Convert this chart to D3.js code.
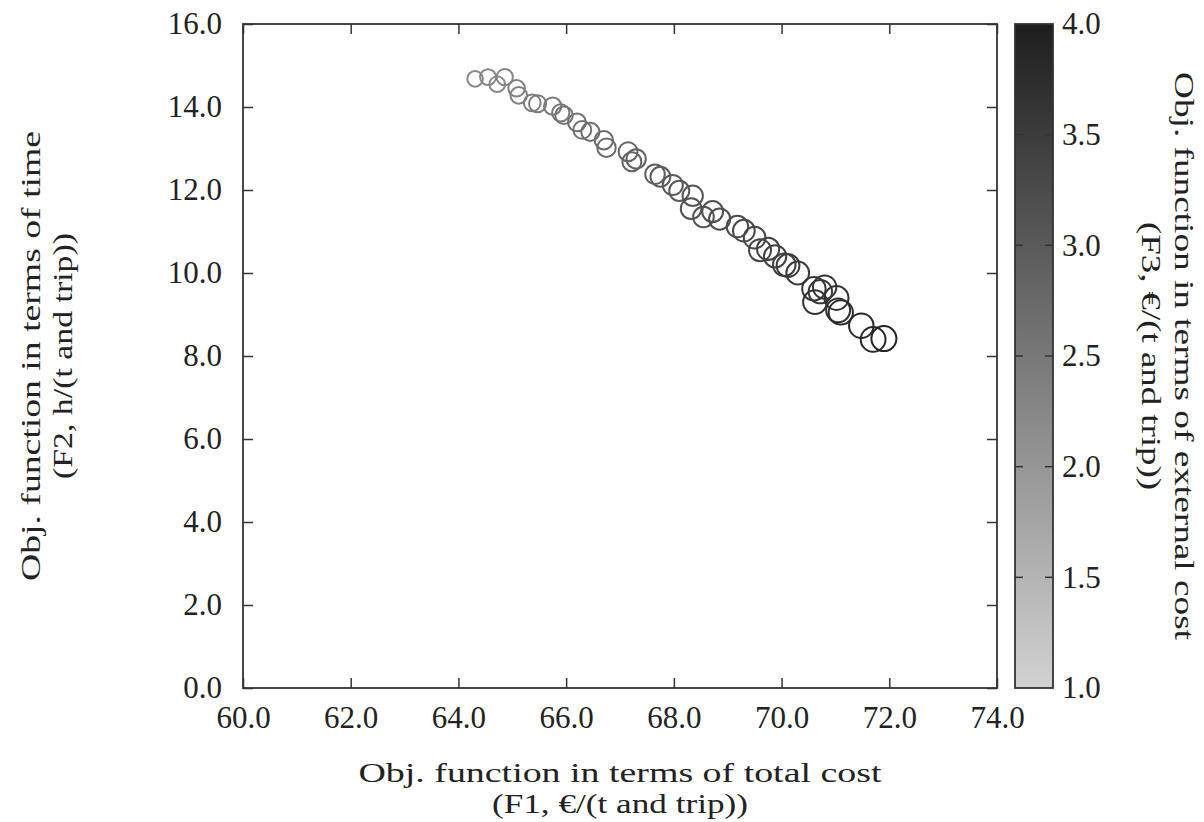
<!DOCTYPE html>
<html><head><meta charset="utf-8">
<script src="https://cdn.jsdelivr.net/npm/d3@7"></script>
<style>body{margin:0;background:#fff}svg{display:block}text{font-family:"Liberation Serif","DejaVu Serif",serif;fill:#222}</style>
</head><body><svg id="c" width="1204" height="822"></svg>
<script>
const f1 = [64.31,64.55,64.72,64.86,65.08,65.12,65.37,65.47,65.75,65.90,65.96,66.20,66.30,66.45,66.70,66.75,67.15,67.22,67.30,67.65,67.75,67.98,68.10,68.35,68.32,68.55,68.72,68.85,69.18,69.30,69.50,69.60,69.75,69.88,70.05,70.12,70.30,70.60,70.62,70.72,70.80,71.02,71.05,71.10,71.48,71.70,71.90];
const f2 = [14.68,14.72,14.55,14.72,14.45,14.28,14.10,14.08,14.02,13.86,13.80,13.63,13.45,13.40,13.20,13.02,12.92,12.68,12.75,12.38,12.32,12.12,11.98,11.86,11.55,11.35,11.48,11.30,11.12,11.02,10.85,10.55,10.58,10.40,10.20,10.18,10.00,9.62,9.30,9.55,9.66,9.40,9.10,9.05,8.73,8.40,8.42];
const f3 = [2.2,2.25,2.2,2.3,2.35,2.35,2.4,2.45,2.5,2.5,2.55,2.6,2.6,2.65,2.7,2.7,2.8,2.8,2.85,2.9,2.95,3.0,3.0,3.05,3.1,3.1,3.15,3.2,3.25,3.3,3.3,3.35,3.4,3.4,3.45,3.5,3.5,3.6,3.65,3.6,3.6,3.7,3.7,3.75,3.8,3.85,3.9];
const xTicks = [60,62,64,66,68,70,72,74];
const yTicks = [0,2,4,6,8,10,12,14,16];
const cTicks = [1.0,1.5,2.0,2.5,3.0,3.5,4.0];
const xTitle = ["Obj. function in terms of total cost","(F1, \u20AC/(t and trip))"];
const yTitle = ["Obj. function in terms of time","(F2, h/(t and trip))"];
const cTitle = ["Obj. function in terms of external cost","(F3, \u20AC/(t and trip))"];

const svg = d3.select("#c");
const L=243,R=997,T=24,B=688;
const x = d3.scaleLinear().domain([60,74]).range([L,R]);
const y = d3.scaleLinear().domain([0,16]).range([B,T]);
const gray = d3.scaleLinear().domain([1,4]).range(["#d2d2d2","#1e1e1e"]);
const rs = d3.scaleLinear().domain([2,4]).range([7.3,12.8]);
const fs = 31, tfs = 28, stroke="#333";

// axes (inward ticks on all sides)
const tk=10;
svg.append("g").attr("transform",`translate(0,${B})`).call(d3.axisBottom(x).tickValues(xTicks).tickSize(-tk).tickPadding(18).tickFormat(d3.format(".1f")));
svg.append("g").attr("transform",`translate(0,${T})`).call(d3.axisTop(x).tickValues(xTicks).tickSize(-tk).tickFormat(""));
svg.append("g").attr("transform",`translate(${L},0)`).call(d3.axisLeft(y).tickValues(yTicks).tickSize(-tk).tickPadding(21).tickFormat(d3.format(".1f")));
svg.append("g").attr("transform",`translate(${R},0)`).call(d3.axisRight(y).tickValues(yTicks).tickSize(-tk).tickFormat(""));
svg.selectAll(".domain").remove();
svg.selectAll(".tick line").attr("stroke",stroke).attr("stroke-width",1.5);
svg.selectAll(".tick text").attr("font-size",fs).attr("font-family",'"Liberation Serif",serif').attr("fill","#222");
svg.append("rect").attr("x",L).attr("y",T).attr("width",R-L).attr("height",B-T).attr("fill","none").attr("stroke",stroke).attr("stroke-width",1.8);

// points
svg.append("g").selectAll("circle").data(f1.map((d,i)=>({a:d,b:f2[i],c:f3[i]}))).join("circle")
  .attr("cx",d=>x(d.a)).attr("cy",d=>y(d.b)).attr("r",d=>rs(d.c))
  .attr("fill","none").attr("stroke",d=>gray(d.c)).attr("stroke-width",2);

// colorbar
const cL=1015,cR=1053;
const cy = d3.scaleLinear().domain([1,4]).range([B,T]);
const grad = svg.append("defs").append("linearGradient").attr("id","g").attr("x1",0).attr("y1",1).attr("x2",0).attr("y2",0);
grad.selectAll("stop").data(d3.range(0,1.0001,0.1)).join("stop").attr("offset",d=>d).attr("stop-color",d=>gray(1+3*d));
svg.append("rect").attr("x",cL).attr("y",T).attr("width",cR-cL).attr("height",B-T).attr("fill","url(#g)").attr("stroke",stroke).attr("stroke-width",1.8);
const ct = svg.append("g");
ct.selectAll("line.l").data(cTicks.slice(1,-1)).join("line").attr("x1",cL).attr("x2",cL+8).attr("y1",d=>cy(d)).attr("y2",d=>cy(d)).attr("stroke",stroke).attr("stroke-width",1.5);
ct.selectAll("line.r").data(cTicks.slice(1,-1)).join("line").attr("x1",cR-8).attr("x2",cR).attr("y1",d=>cy(d)).attr("y2",d=>cy(d)).attr("stroke",stroke).attr("stroke-width",1.5);
ct.selectAll("text").data(cTicks).join("text").attr("x",cR+9).attr("y",d=>cy(d)).attr("dy","0.33em").attr("font-size",fs).text(d=>d.toFixed(1));

// titles
function tsp(sel, txt, xx, yy, len){
  sel.append("tspan").attr("x",xx).attr("y",yy).attr("textLength",len).attr("lengthAdjust","spacingAndGlyphs").text(txt);
}
const xt = svg.append("text").attr("text-anchor","middle").attr("font-size",tfs);
tsp(xt, xTitle[0], (L+R)/2, 782, 523);
tsp(xt, xTitle[1], (L+R)/2, 813, 256);
const yt = svg.append("text").attr("text-anchor","middle").attr("font-size",tfs).attr("transform",`translate(0,${(T+B)/2}) rotate(-90)`);
tsp(yt, yTitle[0], 0, 40, 450);
tsp(yt, yTitle[1], 0, 72, 246);
const ctt = svg.append("text").attr("text-anchor","middle").attr("font-size",tfs).attr("transform",`translate(0,${(T+B)/2}) rotate(90)`);
tsp(ctt, cTitle[0], 0, -1175, 568);
tsp(ctt, cTitle[1], 0, -1142, 268);
</script></body></html>
